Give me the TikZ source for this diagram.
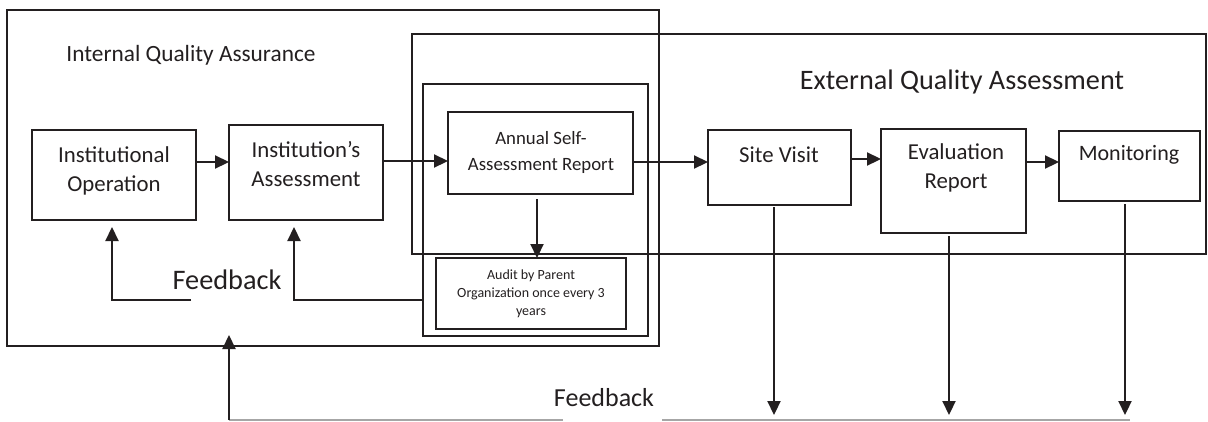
\documentclass[tikz,border=0pt]{standalone}
\usepackage{fontspec}
\setmainfont{Carlito}
\usetikzlibrary{arrows.meta}
\definecolor{ink}{HTML}{231F20}
\definecolor{lightline}{HTML}{A6A6A6}
\begin{document}
\begin{tikzpicture}[x=1pt,y=-1pt,
 box/.style={draw=ink, line width=1.6pt, inner sep=0pt, outer sep=0pt},
 arr/.style={draw=ink, line width=2.2pt, -{Triangle[length=14pt,width=13pt]}},
 greyline/.style={draw=lightline, line width=1.5pt},
 txt/.style={text=ink, align=center, inner sep=0pt, font=\fontsize{22.8}{29}\selectfont},
]
\useasboundingbox (0,0) rectangle (1208,421);
% frames
\node[box, minimum width=652, minimum height=336] (iqa) at (333,178) {};
\node[box, minimum width=794, minimum height=220] (eqa) at (809,144) {};
\node[box, minimum width=225, minimum height=252] (mid) at (535.5,210) {};
% boxes
\node[box, minimum width=185, minimum height=82] (annual) at (540.5,153) {};
\node[box, minimum width=190, minimum height=71] (audit) at (531,293.5) {};
\node[box, minimum width=164, minimum height=90] (io) at (114,175) {};
\node[box, minimum width=154, minimum height=95] (ia) at (306,172.5) {};
\node[box, minimum width=143, minimum height=75] (sv) at (779.5,167.5) {};
\node[box, minimum width=145, minimum height=104] (er) at (953.5,181) {};
\node[box, minimum width=141, minimum height=70] (mon) at (1129.5,166) {};
% texts
\node[txt, font=\fontsize{23.3}{29}\selectfont] (tiqa) at (191,55) {Internal Quality Assurance};
\node[txt, font=\fontsize{28.2}{32}\selectfont] (teqa) at (962,82) {External Quality Assessment};
\node[txt] (tio) at (114,171) {Institutional\\Operation};
\node[txt] (tia) at (306,164) {Institution’s\\Assessment};
\node[txt, font=\fontsize{18.8}{26}\selectfont] (tannual) at (541,152) {Annual Self-\\Assessment Report};
\node[txt, font=\fontsize{14}{18}\selectfont] (taudit) at (531,294) {Audit by Parent\\Organization once every 3\\years};
\node[txt] (tsv) at (779,155) {Site Visit};
\node[txt] (ter) at (956,168) {Evaluation\\Report};
\node[txt, font=\fontsize{22}{29}\selectfont] (tmon) at (1129,155) {Monitoring};
\node[txt, font=\fontsize{28.3}{32}\selectfont] (tfb1) at (227,280) {Feedback};
\node[txt, font=\fontsize{26}{30}\selectfont] (tfb2) at (604,398) {Feedback};
% forward arrows
\draw[arr] (io.east |- 0,162) -- (ia.west |- 0,162);
\draw[arr] (ia.east |- 0,161) -- (annual.west |- 0,161);
\draw[arr] (annual.east |- 0,162) -- (sv.west |- 0,162);
\draw[arr] (sv.east |- 0,159) -- (er.west |- 0,159);
\draw[arr] (er.east |- 0,162) -- (mon.west |- 0,162);
\draw[arr, shorten <=5pt] (annual.south -| 537,0) -- (audit.north -| 537,0);
% internal feedback
\coordinate (fa) at (191,300);
\draw[arr, shorten >=7pt] (fa) -| (112,0 |- io.south);
\draw[arr, shorten >=7pt] (mid.west |- 0,300) -| (294,0 |- ia.south);
% external feedback
\coordinate (b1) at (229,420);
\coordinate (b2) at (563,420);
\coordinate (b3) at (662,420);
\coordinate (b4) at (1130,420);
\coordinate (iqain) at (229,335);
\coordinate (svout) at (774,415);
\coordinate (erout) at (949,415);
\coordinate (monout) at (1125,415);
\draw[greyline] (b1) -- (b2);
\draw[greyline] (b3) -- (b4);
\draw[arr] (b1) -- (iqain);
\draw[arr, shorten <=2pt] (sv.south -| svout) -- (svout);
\draw[arr, shorten <=3pt] (er.south -| erout) -- (erout);
\draw[arr, shorten <=3pt] (mon.south -| monout) -- (monout);
\end{tikzpicture}
\end{document}
